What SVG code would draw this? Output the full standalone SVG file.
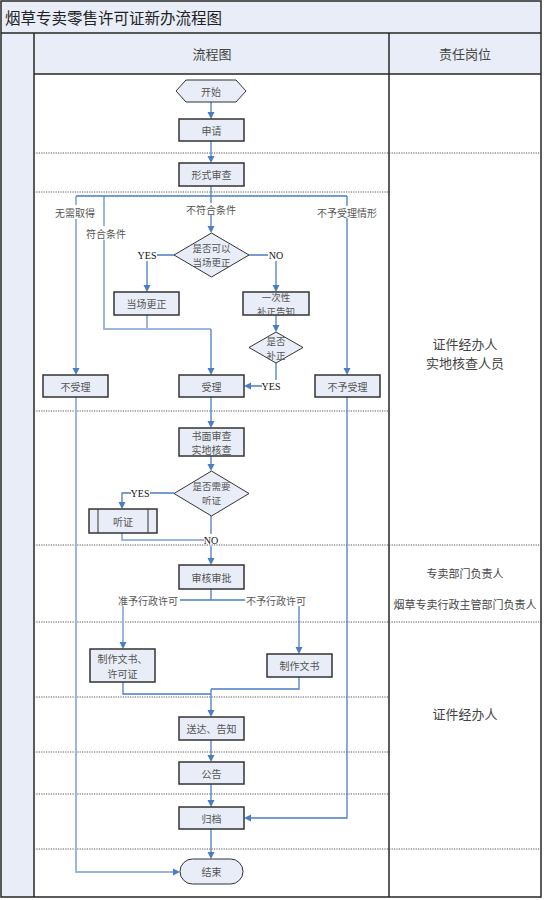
<svg xmlns="http://www.w3.org/2000/svg" width="551" height="900" viewBox="0 0 551 900">
<style>
.band{fill:#e8edf7;}
.frame{fill:none;stroke:#262626;stroke-width:1.5;}
.dot{stroke:#555;stroke-width:1;stroke-dasharray:1.2,1.2;fill:none;}
.box{fill:#e8edf7;stroke:#333;stroke-width:1.5;}
.thin{fill:#e8edf7;stroke:#333;stroke-width:1;}
.t{font-family:"Noto Sans CJK SC","Noto Sans",sans-serif;font-size:10px;fill:#555;text-anchor:middle;dominant-baseline:central;}
.ts{font-family:"Noto Sans CJK SC","Noto Sans",sans-serif;font-size:9.5px;fill:#555;text-anchor:middle;dominant-baseline:central;}
.r{font-family:"Noto Sans CJK SC","Noto Sans",sans-serif;font-size:13px;fill:#444;text-anchor:middle;dominant-baseline:central;}
.rs{font-family:"Noto Sans CJK SC","Noto Sans",sans-serif;font-size:11px;fill:#444;text-anchor:middle;dominant-baseline:central;}
.yn{font-family:"Liberation Serif",serif;font-size:10px;fill:#111;text-anchor:middle;dominant-baseline:central;}
.c{fill:none;stroke:#4a7ec2;stroke-width:1.3;}
.cl{fill:none;stroke:#9ab7df;stroke-width:2;}
</style>
<rect x="0" y="0" width="551" height="900" fill="#fff"/>
<g id="frame">
<rect class="band" x="1" y="1" width="540" height="32"/>
<rect class="band" x="1" y="33" width="33" height="864"/>
<rect class="band" x="34" y="33" width="507" height="41"/>
<rect class="frame" x="1" y="1" width="540" height="896"/>
<line class="frame" x1="1" y1="33" x2="541" y2="33"/>
<line class="frame" x1="34" y1="33" x2="34" y2="897"/>
<line class="frame" x1="34" y1="74" x2="541" y2="74"/>
<line class="frame" x1="389" y1="33" x2="389" y2="897"/>
<text x="5" y="17" style="font-family:'Noto Sans CJK SC','Noto Sans',sans-serif;font-size:15.5px;fill:#222;dominant-baseline:central;">烟草专卖零售许可证新办流程图</text>
<text class="r" x="212" y="53">流程图</text>
<text class="r" x="465" y="53">责任岗位</text>
</g>
<g id="separators">
<line class="dot" x1="34" y1="153" x2="541" y2="153"/>
<line class="dot" x1="34" y1="192" x2="389" y2="192"/>
<line class="dot" x1="34" y1="411" x2="389" y2="411"/>
<line class="dot" x1="34" y1="545" x2="541" y2="545"/>
<line class="dot" x1="34" y1="622" x2="541" y2="622"/>
<line class="dot" x1="34" y1="697" x2="389" y2="697"/>
<line class="dot" x1="34" y1="752" x2="389" y2="752"/>
<line class="dot" x1="34" y1="794" x2="389" y2="794"/>
<line class="dot" x1="34" y1="849" x2="541" y2="849"/>
</g>
<g id="roles">
<text class="r" x="465" y="343"><tspan x="465" y="343">证件经办人</tspan><tspan x="465" y="362">实地核查人员</tspan></text>
<text class="rs" x="465" y="573">专卖部门负责人</text>
<text class="rs" x="465" y="604">烟草专卖行政主管部门负责人</text>
<text class="r" x="465" y="713">证件经办人</text>
</g>
<g id="connectors">
<path class="cl" d="M76,196 V205 M76,219 V369"/>
<path class="cl" d="M104,196 V226 M104,240 V329 H211"/>
<path class="cl" d="M147,315 V329"/>
<path class="cl" d="M76,397 V872 H174"/>
<path class="cl" d="M122,533 V540 H204"/>
<path class="cl" d="M123,606 V643"/>
<path class="c" d="M211,102 V113"/>
<path class="c" d="M211,141 V157"/>
<path class="c" d="M211,186 V196 M76,196 H347"/>
<path class="c" d="M211,196 V203 M211,215 V227"/>
<path class="c" d="M347,196 V206 M347,218 V369"/>
<path class="c" d="M174,255 H157 M147,261 V286"/>
<path class="c" d="M249,255 H268 M276,261 V286"/>
<path class="c" d="M276,315 V326"/>
<path class="c" d="M276,363 V380 M262,386 H250"/>
<path class="c" d="M211,329 V369"/>
<path class="c" d="M211,397 V422"/>
<path class="c" d="M211,456 V465"/>
<path class="c" d="M174,493 H150 M131,493 H122 V503"/>
<path class="c" d="M211,516 V534 M211,546 V559"/>
<path class="c" d="M211,589 V600 M180,600 H245"/>
<path class="c" d="M299,606 V648"/>
<path class="c" d="M299,677 V689 H211 M123,682 V694 H211"/>
<path class="c" d="M211,689 V711"/>
<path class="c" d="M211,740 V756"/>
<path class="c" d="M211,784 V801"/>
<path class="c" d="M211,829 V853"/>
<path class="c" d="M347,397 V818 H250"/>
<g fill="#4a7ec2">
<path d="M211,119 l-3.5,-7 h7z"/>
<path d="M211,163 l-3.5,-7 h7z"/>
<path d="M211,233 l-3.5,-7 h7z"/>
<path d="M347,375 l-3.5,-7 h7z"/>
<path d="M76,375 l-3.5,-7 h7z"/>
<path d="M147,292 l-3.5,-7 h7z"/>
<path d="M276,292 l-3.5,-7 h7z"/>
<path d="M276,332 l-3.5,-7 h7z"/>
<path d="M244,386 l7,-3.5 v7z"/>
<path d="M211,375 l-3.5,-7 h7z"/>
<path d="M211,428 l-3.5,-7 h7z"/>
<path d="M211,471 l-3.5,-7 h7z"/>
<path d="M122,509 l-3.5,-7 h7z"/>
<path d="M211,565 l-3.5,-7 h7z"/>
<path d="M123,649 l-3.5,-7 h7z"/>
<path d="M299,654 l-3.5,-7 h7z"/>
<path d="M211,717 l-3.5,-7 h7z"/>
<path d="M211,762 l-3.5,-7 h7z"/>
<path d="M211,807 l-3.5,-7 h7z"/>
<path d="M211,859 l-3.5,-7 h7z"/>
<path d="M244,818 l7,-3.5 v7z"/>
<path d="M180,872 l-7,-3.5 v7z"/>
</g>
<text class="t" x="75" y="212">无需取得</text>
<text class="t" x="106" y="233">符合条件</text>
<text class="t" x="211" y="209">不符合条件</text>
<text class="t" x="347" y="212">不予受理情形</text>
<text class="yn" x="147" y="255">YES</text>
<text class="yn" x="276" y="255">NO</text>
<text class="yn" x="271" y="386">YES</text>
<text class="yn" x="140" y="493">YES</text>
<text class="yn" x="211" y="540">NO</text>
<text class="t" x="148" y="600">准予行政许可</text>
<text class="t" x="276" y="600">不予行政许可</text>
</g>
<g id="n-start"><polygon class="thin" points="176,91 186,80 236,80 246,91 236,102 186,102"/><text class="t" x="211" y="91">开始</text></g>
<g id="n-apply"><rect class="box" x="179" y="119" width="65" height="22"/><text class="t" x="211.5" y="130">申请</text></g>
<g id="n-formal"><rect class="box" x="179" y="163" width="65" height="23"/><text class="t" x="211.5" y="174.5">形式审查</text></g>
<g id="n-d1"><polygon class="thin" points="211.5,233 249,255 211.5,277 174,255"/><text class="ts" x="211.5" y="248"><tspan x="211.5" y="248">是否可以</tspan><tspan x="211.5" y="262">当场更正</tspan></text></g>
<g id="n-fix"><rect class="box" x="114" y="292" width="65" height="23"/><text class="t" x="146.5" y="303.5">当场更正</text></g>
<g id="n-notice"><rect class="box" x="243" y="292" width="66" height="23"/><text class="ts" x="276" y="296.5"><tspan x="276" y="296.5">一次性</tspan><tspan x="276" y="310.5">补正告知</tspan></text></g>
<g id="n-d2"><polygon class="thin" points="276,332 303,347.5 276,363 249,347.5"/><text class="ts" x="276" y="340.5"><tspan x="276" y="340.5">是否</tspan><tspan x="276" y="354.5">补正</tspan></text></g>
<g id="n-reject"><rect class="box" x="43" y="375" width="65" height="22"/><text class="t" x="75.5" y="386">不受理</text></g>
<g id="n-accept"><rect class="box" x="179" y="375" width="65" height="22"/><text class="t" x="211.5" y="386">受理</text></g>
<g id="n-notaccept"><rect class="box" x="315" y="375" width="65" height="22"/><text class="t" x="347.5" y="386">不予受理</text></g>
<g id="n-review"><rect class="box" x="179" y="428" width="65" height="28"/><text class="t" x="211.5" y="435"><tspan x="211.5" y="435">书面审查</tspan><tspan x="211.5" y="449">实地核查</tspan></text></g>
<g id="n-d3"><polygon class="thin" points="211.5,471 249,493.5 211.5,516 174,493.5"/><text class="ts" x="211.5" y="486"><tspan x="211.5" y="486">是否需要</tspan><tspan x="211.5" y="500">听证</tspan></text></g>
<g id="n-hearing"><rect class="box" x="89" y="509" width="68" height="24"/><line x1="98" y1="509" x2="98" y2="533" stroke="#333" stroke-width="1"/><line x1="148" y1="509" x2="148" y2="533" stroke="#333" stroke-width="1"/><text class="t" x="123" y="521">听证</text></g>
<g id="n-approve"><rect class="box" x="179" y="565" width="65" height="24"/><text class="t" x="211.5" y="577">审核审批</text></g>
<g id="n-doc1"><rect class="box" x="90" y="649" width="65" height="33"/><text class="t" x="122.5" y="658"><tspan x="122.5" y="658">制作文书、</tspan><tspan x="122.5" y="672.5">许可证</tspan></text></g>
<g id="n-doc2"><rect class="box" x="267" y="654" width="65" height="23"/><text class="t" x="299.5" y="665.5">制作文书</text></g>
<g id="n-deliver"><rect class="box" x="179" y="717" width="65" height="23"/><text class="t" x="211.5" y="728.5">送达、告知</text></g>
<g id="n-publish"><rect class="box" x="179" y="762" width="65" height="22"/><text class="t" x="211.5" y="773">公告</text></g>
<g id="n-archive"><rect class="box" x="179" y="807" width="65" height="22"/><text class="t" x="211.5" y="818">归档</text></g>
<g id="n-end"><rect class="thin" x="180" y="859" width="63" height="25" rx="12.5" ry="12.5"/><text class="t" x="211.5" y="871.5">结束</text></g>
</svg>
